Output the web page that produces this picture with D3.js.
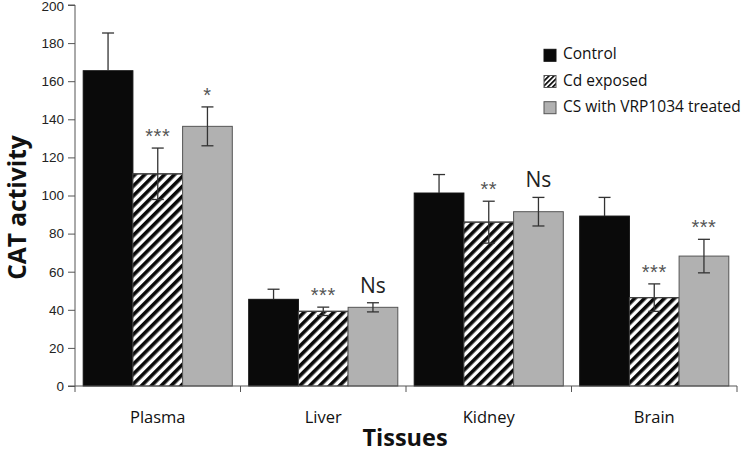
<!DOCTYPE html>
<html><head><meta charset="utf-8">
<script src="https://cdn.jsdelivr.net/npm/d3@7"></script>
<style>body{margin:0;background:#fff}svg{display:block}</style>
</head><body>
<svg id="c" width="741" height="452"></svg>
<script>
const categories = ["Plasma","Liver","Kidney","Brain"];
const seriesNames = ["Control","Cd exposed","CS with VRP1034 treated"];
const controlVals = [165.5, 45.5, 101.3, 89.2];
const controlErr  = [19.8, 5.3, 9.7, 9.8];
const cdVals = [111.4, 39.2, 86.0, 46.4];
const cdErr  = [13.5, 2.2, 11.0, 7.2];
const csVals = [136.3, 41.3, 91.5, 68.2];
const csErr  = [10.2, 2.4, 7.5, 8.8];
const cdMarks = ["***","***","**","***"];
const csMarks = ["*","Ns","Ns","***"];
const yTicks = [0,20,40,60,80,100,120,140,160,180,200];

(function(){
const svg = d3.select("#c");
const defs = svg.append("defs");
const pat = defs.append("pattern").attr("id","hatch").attr("patternUnits","userSpaceOnUse")
  .attr("width",7).attr("height",7).attr("patternTransform","rotate(45)");
pat.append("rect").attr("width",7).attr("height",7).attr("fill","#fff");
pat.append("rect").attr("x",0).attr("width",3.6).attr("height",7).attr("fill","#0a0a0a");
const pat2 = defs.append("pattern").attr("id","hatchS").attr("patternUnits","userSpaceOnUse")
  .attr("width",3.5).attr("height",3.5).attr("patternTransform","rotate(45)");
pat2.append("rect").attr("width",3.5).attr("height",3.5).attr("fill","#fff");
pat2.append("rect").attr("width",1.8).attr("height",3.5).attr("fill","#111");

const left = 75, right = 737, topY = 5, bottom = 386;
const x = d3.scaleBand().domain(categories).range([left,right]).paddingInner(0).paddingOuter(0);
const x1 = d3.scaleBand().domain(seriesNames).range([0,x.bandwidth()]).paddingOuter(0.165).paddingInner(0);
const y = d3.scaleLinear().domain([0,200]).range([bottom,topY]);

const fills = ["#0a0a0a","url(#hatch)","#b1b1b1"];
const vals = [controlVals, cdVals, csVals];
const errs = [controlErr, cdErr, csErr];

categories.forEach((c,i)=>{
  seriesNames.forEach((s,j)=>{
    const bx = x(c)+x1(s), bw = x1.bandwidth(), v = vals[j][i];
    svg.append("rect").attr("x",bx).attr("y",y(v)).attr("width",bw).attr("height",y(0)-y(v))
      .attr("fill",fills[j]).attr("stroke", j===2 ? "#555" : (j===1 ? "#444":"#111")).attr("stroke-width",1);
    if (j===1) {
      svg.append("line").attr("x1",bx).attr("x2",bx+bw).attr("y1",y(v)).attr("y2",y(v)).attr("stroke","#444").attr("stroke-width",1.2);
    }
  });
});
categories.forEach((c,i)=>{
  seriesNames.forEach((s,j)=>{
    const cx = x(c)+x1(s)+x1.bandwidth()/2, v = vals[j][i], e = errs[j][i];
    const g = svg.append("g").attr("stroke","#333").attr("stroke-width",1.3);
    const lowEnd = j===0 ? v : v-e;
    g.append("line").attr("x1",cx).attr("x2",cx).attr("y1",y(v+e)).attr("y2",y(lowEnd));
    g.append("line").attr("x1",cx-6).attr("x2",cx+6).attr("y1",y(v+e)).attr("y2",y(v+e));
    if (j!==0) g.append("line").attr("x1",cx-6).attr("x2",cx+6).attr("y1",y(v-e)).attr("y2",y(v-e));
  });
});
const markGroup = (marks, j, valsArr, errArr) => {
  categories.forEach((c,i)=>{
    const cx = x(c)+x1(seriesNames[j])+x1.bandwidth()/2;
    const m = marks[i];
    const t = y(valsArr[i]+errArr[i]);
    if (m === "Ns") {
      svg.append("text").attr("x",cx).attr("y",t-10).attr("text-anchor","middle")
        .attr("font-family","Open Sans, sans-serif").attr("font-size",21).attr("fill","#222").text(m);
    } else {
      svg.append("text").attr("x",cx).attr("y",t-5).attr("text-anchor","middle")
        .attr("font-family","Liberation Sans, Arial, sans-serif").attr("font-size",20).attr("fill","#555")
        .attr("letter-spacing",0.5).text(m);
    }
  });
};
markGroup(cdMarks,1,cdVals,cdErr);
markGroup(csMarks,2,csVals,csErr);

const yAxis = d3.axisLeft(y).tickValues(yTicks).tickSize(7).tickPadding(4);
const ya = svg.append("g").attr("transform",`translate(${left},0)`).call(yAxis);
ya.selectAll("path,line").attr("stroke","#555");
ya.selectAll("text").attr("font-family","Liberation Sans, Arial, sans-serif").attr("font-size",13.5).attr("fill","#222")
  .attr("dy",(d)=> d===200 ? "0.42em" : "0.32em");
ya.select(".domain").attr("d",`M-7,${topY}H0V${bottom}`);

const xa = svg.append("g").attr("transform",`translate(0,${bottom})`);
xa.append("line").attr("x1",left-7).attr("x2",right).attr("stroke","#555");
const bounds = categories.map(c=>x(c)).concat([right]);
xa.selectAll("line.t").data(bounds).enter().append("line").attr("class","t")
  .attr("x1",d=>d).attr("x2",d=>d).attr("y1",0).attr("y2",6).attr("stroke","#555");
xa.selectAll("text").data(categories).enter().append("text")
  .attr("x",d=>x(d)+x.bandwidth()/2).attr("y",37).attr("text-anchor","middle")
  .attr("font-family","Open Sans, sans-serif").attr("font-size",16.5).attr("fill","#111").text(d=>d);

svg.append("text").attr("x",405).attr("y",445.5).attr("text-anchor","middle")
  .attr("font-family","Open Sans, sans-serif").attr("font-weight","bold").attr("font-size",23.5).attr("fill","#111").text("Tissues");
svg.append("text").attr("transform","translate(26,207.5) rotate(-90)").attr("text-anchor","middle")
  .attr("font-family","Open Sans, sans-serif").attr("font-weight","bold").attr("font-size",24.5).attr("fill","#111").text("CAT activity");

const legFills = ["#0a0a0a","url(#hatchS)","#b1b1b1"];
const leg = svg.append("g");
seriesNames.forEach((s,j)=>{
  const base = 59.3 + j*26.2;
  leg.append("rect").attr("x",544).attr("y",base-10).attr("width",12).attr("height",12)
    .attr("fill",legFills[j]).attr("stroke", j===0?"#111":"#555").attr("stroke-width",1);
  leg.append("text").attr("x",563).attr("y",base).attr("font-family","Open Sans, sans-serif")
    .attr("font-size",15.5).attr("fill","#111").text(s);
});
})();
</script>
</body></html>
